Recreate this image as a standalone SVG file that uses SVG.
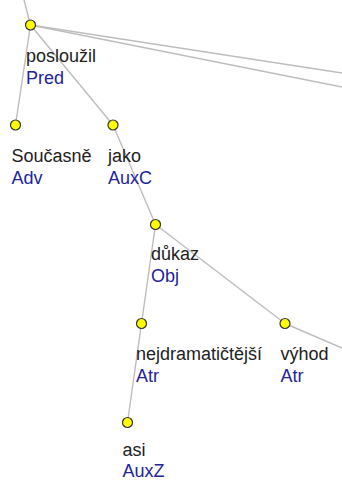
<svg xmlns="http://www.w3.org/2000/svg" width="342" height="481" viewBox="0 0 342 481">
<style>
.e{stroke:#bdbdbd;stroke-width:1.4;fill:none}
.n{fill:#ffff00;stroke:#333;stroke-width:1.2}
.f{font-family:"Liberation Sans",Arial,sans-serif;font-size:18px}
.w{fill:#222}
.t{fill:#23239a}
</style>
<rect width="342" height="481" fill="#fff"/>
<g id="edges">
<line class="e" x1="30.5" y1="25" x2="24" y2="0"/>
<line class="e" x1="30.5" y1="25" x2="342" y2="73"/>
<line class="e" x1="30.5" y1="25" x2="342" y2="87"/>
<line class="e" x1="30.5" y1="25" x2="15.5" y2="125"/>
<line class="e" x1="30.5" y1="25" x2="113" y2="125"/>
<line class="e" x1="113" y1="125" x2="155.5" y2="224.5"/>
<line class="e" x1="155.5" y1="224.5" x2="141.5" y2="323.5"/>
<line class="e" x1="155.5" y1="224.5" x2="285" y2="323.5"/>
<line class="e" x1="285" y1="323.5" x2="342" y2="348"/>
<line class="e" x1="141.5" y1="323.5" x2="127.5" y2="422.5"/>
</g>
<g id="n-posluzil"><circle class="n" cx="30.5" cy="25" r="5"/><text class="f w" x="26" y="62">posloužil</text><text class="f t" x="26" y="84">Pred</text></g>
<g id="n-soucasne"><circle class="n" cx="15.5" cy="125" r="5"/><text class="f w" x="11.5" y="162">Současně</text><text class="f t" x="11.5" y="184">Adv</text></g>
<g id="n-jako"><circle class="n" cx="113" cy="125" r="5"/><text class="f w" x="108" y="162">jako</text><text class="f t" x="108" y="184">AuxC</text></g>
<g id="n-dukaz"><circle class="n" cx="155.5" cy="224.5" r="5"/><text class="f w" x="151" y="260">důkaz</text><text class="f t" x="151" y="282">Obj</text></g>
<g id="n-nejdramaticteji"><circle class="n" cx="141.5" cy="323.5" r="5"/><text class="f w" x="136" y="360">nejdramatičtější</text><text class="f t" x="136" y="382">Atr</text></g>
<g id="n-vyhod"><circle class="n" cx="285" cy="323.5" r="5"/><text class="f w" x="280.5" y="360">výhod</text><text class="f t" x="280.5" y="382">Atr</text></g>
<g id="n-asi"><circle class="n" cx="127.5" cy="422.5" r="5"/><text class="f w" x="122.5" y="456">asi</text><text class="f t" x="122.5" y="477">AuxZ</text></g>
</svg>
